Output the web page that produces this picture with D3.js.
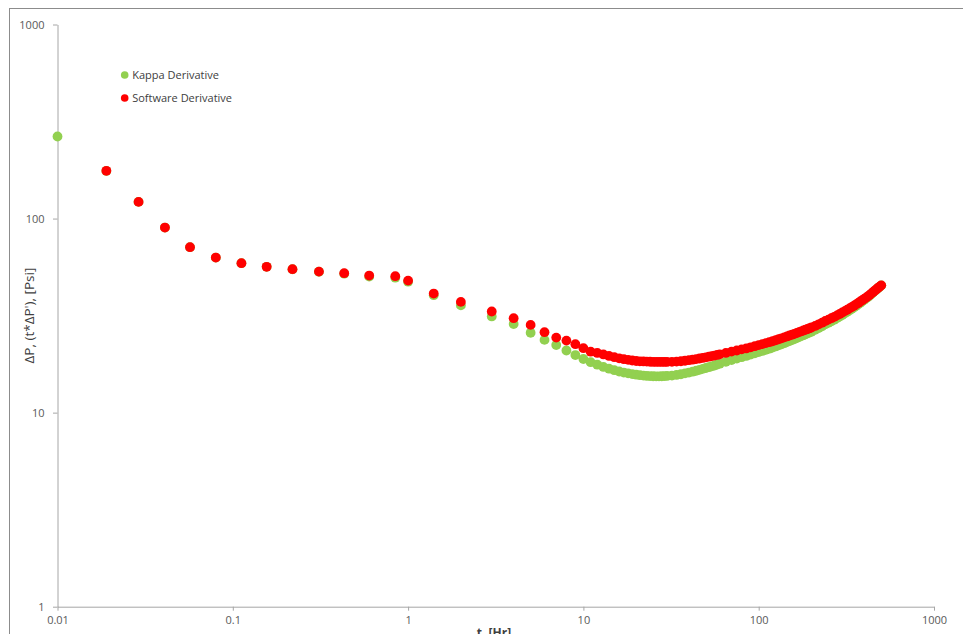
<!DOCTYPE html>
<html>
<head>
<meta charset="utf-8">
<script src="https://cdn.jsdelivr.net/npm/d3@7"></script>
<style>
  body { margin: 0; background: #fff; }
  svg { display: block; font-family: "Open Sans", "Noto Sans", sans-serif; }
</style>
</head>
<body>
<div id="chart"></div>
<script>
// time, hours
const kappaTime = [0.01, 0.019, 0.029, 0.041, 0.057, 0.08, 0.112, 0.156, 0.219, 0.31, 0.432, 0.6, 0.845, 1, 1.4, 2, 3, 4, 5, 6, 7, 8, 9,
  10, 11, 12, 13, 14, 15, 16, 17, 18, 19, 20, 21, 22, 23, 24, 25, 26, 27, 28, 29, 30,
  32, 34, 36, 38, 40, 42, 44, 46, 48, 50, 52, 54, 56, 58, 60, 65, 70, 75, 80, 85, 90, 95, 100,
  105, 110, 115, 120, 125, 130, 135, 140, 145, 150, 155, 160, 165, 170, 175, 180, 185, 190, 195, 200,
  210, 220, 230, 240, 250, 260, 270, 280, 290, 300, 310, 320, 330, 340, 350, 360, 370, 380, 390, 400,
  410, 420, 430, 440, 450, 460, 470, 480, 490, 500];
const kappaDeriv = [264.7, 176, 121.9, 89.9, 71.2, 62.9, 58.9, 56.4, 54.8, 53.2, 52.0, 50.2, 49.6, 47.3, 40.3, 35.7, 31.3, 28.6, 25.8, 23.7, 22.3, 20.9, 19.8,
  18.9, 18.19, 17.66, 17.2, 16.84, 16.54, 16.29, 16.09, 15.93, 15.79, 15.68, 15.59, 15.51, 15.46, 15.42, 15.4, 15.38, 15.38, 15.4, 15.42, 15.46,
  15.53, 15.64, 15.77, 15.93, 16.09, 16.26, 16.44, 16.61, 16.8, 16.98, 17.14, 17.33, 17.49, 17.68, 17.87, 18.28, 18.65, 18.98, 19.3, 19.6, 19.91, 20.22, 20.51,
  20.79, 21.07, 21.35, 21.63, 21.93, 22.23, 22.51, 22.79, 23.09, 23.39, 23.67, 23.95, 24.24, 24.53, 24.8, 25.06, 25.33, 25.6, 25.86, 26.12,
  26.69, 27.27, 27.87, 28.49, 29.03, 29.58, 30.13, 30.69, 31.28, 31.88, 32.47, 33.08, 33.66, 34.24, 34.87, 35.52, 36.18, 36.86, 37.5, 38.15,
  38.79, 39.44, 40.17, 40.92, 41.66, 42.41, 43.14, 43.88, 44.57, 45.27];

const softTime = kappaTime.slice(1);
const softDeriv = [176.2, 121.9, 89.9, 71.2, 62.95, 58.9, 56.4, 54.85, 53.3, 52.3, 50.84, 50.48, 47.9, 41.06, 37.2, 33.2, 30.66, 28.32, 25.97, 24.36, 23.5, 22.52,
  21.48, 20.6, 20.3, 19.95, 19.6, 19.3, 19.05, 18.85, 18.7, 18.56, 18.45, 18.38, 18.35, 18.31, 18.29, 18.25, 18.25, 18.25, 18.25, 18.25, 18.25,
  18.27, 18.31, 18.4, 18.51, 18.63, 18.74, 18.87, 19.01, 19.14, 19.28, 19.42, 19.55, 19.69, 19.83, 19.98, 20.31, 20.63, 20.9, 21.18, 21.42, 21.71, 22.0, 22.28,
  22.55, 22.82, 23.07, 23.33, 23.61, 23.89, 24.15, 24.42, 24.69, 24.97, 25.22, 25.48, 25.74, 26.0, 26.25, 26.5, 26.73, 26.97, 27.21, 27.46,
  27.98, 28.52, 29.08, 29.66, 30.15, 30.66, 31.17, 31.7, 32.25, 32.81, 33.36, 33.92, 34.45, 34.99, 35.57, 36.16, 36.76, 37.38, 37.96, 38.55,
  39.15, 39.77, 40.45, 41.16, 41.85, 42.56, 43.24, 43.94, 44.6, 45.27];

const xTicks = [0.01, 0.1, 1, 10, 100, 1000];
const xTickLabels = ["0.01", "0.1", "1", "10", "100", "1000"];
const yTicks = [1, 10, 100, 1000];
const yTickLabels = ["1", "10", "100", "1000"];

const seriesNames = ["Kappa Derivative", "Software Derivative"];
const seriesColors = ["#92d050", "#ff0000"];

const width = 963, height = 634;
const plot = {left: 57.5, right: 934, top: 24.5, bottom: 606.7};

const svg = d3.select("#chart").append("svg")
  .attr("width", width)
  .attr("height", height);

// chart area border (runs past the right and bottom edge)
svg.append("rect")
  .attr("x", 9.5).attr("y", 8.5)
  .attr("width", 980).attr("height", 660)
  .attr("fill", "#fff")
  .attr("stroke", "#8c8c8c");

const x = d3.scaleLog().domain([0.01, 1000]).range([plot.left, plot.right]);
const y = d3.scaleLog().domain([1, 1000]).range([plot.bottom, plot.top]);

const xAxis = svg.append("g")
  .attr("transform", "translate(0," + plot.bottom + ")")
  .call(d3.axisBottom(x).tickValues(xTicks)
    .tickFormat((d, i) => xTickLabels[i]).tickSize(4).tickSizeOuter(0).tickPadding(6));

const yAxis = svg.append("g")
  .attr("transform", "translate(" + plot.left + ",0)")
  .call(d3.axisLeft(y).tickValues(yTicks)
    .tickFormat((d, i) => yTickLabels[i]).tickSize(4.5).tickSizeOuter(0).tickPadding(8.5));

[xAxis, yAxis].forEach(function(g) {
  g.selectAll("path, line").attr("stroke", "#a6a6a6");
  g.selectAll("text").attr("fill", "#595959").style("font-size", "11px")
    .style("font-family", "'Open Sans', sans-serif");
});

// axis titles
svg.append("text")
  .attr("transform", "translate(34," + ((plot.top + plot.bottom) / 2) + ") rotate(-90)")
  .attr("text-anchor", "middle")
  .attr("fill", "#404040")
  .style("font-size", "13.5px")
  .text("ΔP, (t*ΔP'), [Psi]");

// cut by the bottom edge, as in the source picture
svg.append("text")
  .attr("x", 494).attr("y", 636.5)
  .attr("text-anchor", "middle")
  .attr("fill", "#404040")
  .style("font-size", "12px")
  .style("font-weight", "bold")
  .text("t, [Hr]");

// series: kappa under, software on top
const series = [
  {t: kappaTime, v: kappaDeriv},
  {t: softTime, v: softDeriv}
];

series.forEach(function(s, k) {
  svg.append("g").selectAll("circle")
    .data(s.t.map((t, i) => [t, s.v[i]]))
    .enter().append("circle")
    .attr("cx", d => x(d[0]))
    .attr("cy", d => y(d[1]))
    .attr("r", 4.9)
    .attr("fill", seriesColors[k]);
});

// legend
const legend = svg.append("g").attr("transform", "translate(124.7,75)");
seriesNames.forEach(function(name, i) {
  const row = legend.append("g").attr("transform", "translate(0," + (i * 23) + ")");
  row.append("circle").attr("r", 3.8).attr("fill", seriesColors[i]);
  row.append("text")
    .attr("x", 7.5).attr("dy", "0.35em")
    .attr("fill", "#404040")
    .style("font-size", "11px")
    .text(name);
});
</script>
</body>
</html>
